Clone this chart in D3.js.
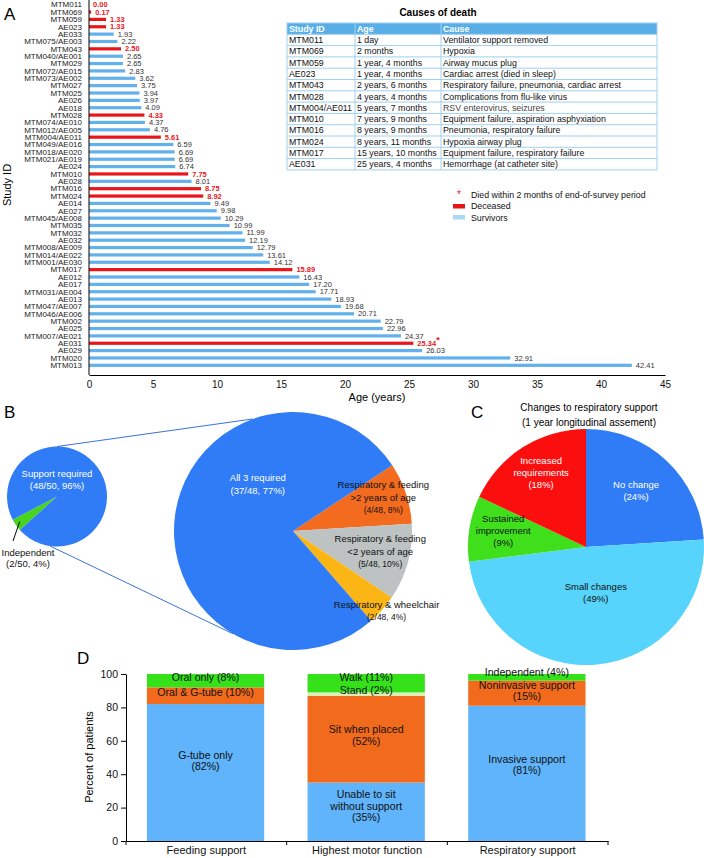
<!DOCTYPE html>
<html><head><meta charset="utf-8">
<script src="https://cdn.jsdelivr.net/npm/d3@7"></script>
<style>body{margin:0;background:#fff}svg{display:block;font-family:"Liberation Sans",Arial,Helvetica,sans-serif}</style>
</head><body><svg id="c" width="704" height="858"></svg>
<script>
// ---------- Panel A data ----------
const studyIds = ["MTM011","MTM069","MTM059","AE023","AE033","MTM075/AE003","MTM043","MTM040/AE001","MTM029","MTM072/AE015",
  "MTM073/AE002","MTM027","MTM025","AE026","AE018","MTM028","MTM074/AE010","MTM012/AE005","MTM004/AE011","MTM049/AE016",
  "MTM018/AE020","MTM021/AE019","AE024","MTM010","AE028","MTM016","MTM024","AE014","AE027","MTM045/AE008",
  "MTM035","MTM032","AE032","MTM008/AE009","MTM014/AE022","MTM001/AE030","MTM017","AE012","AE017","MTM031/AE004",
  "AE013","MTM047/AE007","MTM046/AE006","MTM002","AE025","MTM007/AE021","AE031","AE029","MTM020","MTM013"];
const ages = [0.00,0.17,1.33,1.33,1.93,2.22,2.50,2.65,2.65,2.83,
  3.62,3.75,3.94,3.97,4.09,4.33,4.37,4.76,5.61,6.59,
  6.69,6.69,6.74,7.75,8.01,8.75,8.92,9.49,9.98,10.29,
  10.99,11.99,12.19,12.79,13.61,14.12,15.89,16.43,17.20,17.71,
  18.93,19.68,20.71,22.79,22.96,24.37,25.34,26.03,32.91,42.41];
const deceasedIds = ["MTM011","MTM069","MTM059","AE023","MTM043","MTM028","MTM004/AE011","MTM010","MTM016","MTM024","MTM017","AE031"];
const recentDeathIds = ["AE031"];
const ageTicks = [0,5,10,15,20,25,30,35,40,45];

// Causes of death table
const tableHeader = ["Study ID","Age","Cause"];
const tableIds = ["MTM011","MTM069","MTM059","AE023","MTM043","MTM028","MTM004/AE011","MTM010","MTM016","MTM024","MTM017","AE031"];
const tableAges = ["1 day","2 months","1 year, 4 months","1 year, 4 months","2 years, 6 months","4 years, 4 months","5 years, 7 months","7 years, 9 months","8 years, 9 months","8 years, 11 months","15 years, 10 months","25 years, 4 months"];
const tableCauses = ["Ventilator support removed","Hypoxia","Airway mucus plug","Cardiac arrest (died in sleep)","Respiratory failure, pneumonia, cardiac arrest","Complications from flu-like virus","RSV enterovirus, seizures","Equipment failure, aspiration asphyxiation","Pneumonia, respiratory failure","Hypoxia airway plug","Equipment failure, respiratory failure","Hemorrhage (at catheter site)"];
const legendLabels = ["Died within 2 months of end-of-survey period","Deceased","Survivors"];

// ---------- Panel B data ----------
const smallLabels = [["Independent","(2/50, 4%)"],["Support required","(48/50, 96%)"]];
const smallValues = [2,48];
const bigLabels = [["Respiratory & feeding",">2 years of age","(4/48, 8%)"],["Respiratory & feeding","<2 years of age","(5/48, 10%)"],["Respiratory & wheelchair","(2/48, 4%)"],["All 3 required","(37/48, 77%)"]];
const bigValues = [4,5,2,37];

// ---------- Panel C data ----------
const cTitle = ["Changes to respiratory support","(1 year longitudinal assement)"];
const cLabels = [["No change","(24%)"],["Small changes","(49%)"],["Sustained","improvement","(9%)"],["Increased","requirements","(18%)"]];
const cValues = [24,49,9,18];

// ---------- Panel D data ----------
const dCategories = ["Feeding support","Highest motor function","Respiratory support"];
const feedingLabels = [["G-tube only","(82%)"],["Oral & G-tube (10%)"],["Oral only (8%)"]];
const feedingValues = [82,10,8];
const motorLabels = [["Unable to sit","without support","(35%)"],["Sit when placed","(52%)"],["Stand (2%)"],["Walk (11%)"]];
const motorValues = [35,52,2,11];
const respLabels = [["Invasive support","(81%)"],["Noninvasive support","(15%)"],["Independent (4%)"]];
const respValues = [81,15,4];
const pctTicks = [0,20,40,60,80,100];

// ---------- drawing ----------
const svg = d3.select("#c");
const BLUE_BAR = "#62b1ec", RED = "#e8161b", LIGHT_LEG = "#a9d9f3";
const deg = a => a*Math.PI/180;

// Panel A
const gA = svg.append("g");
gA.append("text").attr("x",4).attr("y",20).attr("font-size",17).text("A");
const xA = d3.scaleLinear().domain([0,45]).range([89,665]);
const yA = d3.scaleBand().domain(studyIds).range([1,369]);
const isDead = id => deceasedIds.includes(id);
const barH = 3.2;
gA.selectAll("rect.bar").data(studyIds).join("rect").attr("class","bar")
  .attr("x",xA(0)).attr("y",(d)=>yA(d)+yA.bandwidth()/2-barH/2)
  .attr("width",(d,i)=>xA(ages[i])-xA(0)).attr("height",barH)
  .attr("fill",d=>isDead(d)?RED:BLUE_BAR);
gA.selectAll("text.id").data(studyIds).join("text").attr("class","id")
  .attr("x",82).attr("y",d=>yA(d)+yA.bandwidth()/2).attr("dy","0.35em")
  .attr("text-anchor","end").attr("font-size",8).attr("fill","#222").text(d=>d);
gA.selectAll("text.val").data(studyIds).join("text").attr("class","val")
  .attr("x",(d,i)=>xA(ages[i])+4).attr("y",d=>yA(d)+yA.bandwidth()/2).attr("dy","0.35em")
  .attr("font-size",7.5).attr("font-weight",d=>isDead(d)?"bold":"normal")
  .attr("fill",d=>isDead(d)?RED:"#333")
  .each(function(d,i){
    const t=d3.select(this); t.text(ages[i].toFixed(2));
    if(recentDeathIds.includes(d)) t.append("tspan").attr("dy","-0.35em").attr("font-size",9).text("*");
  });
// axes
const axA = gA.append("g").attr("transform","translate(0,375)")
  .call(d3.axisBottom(xA).tickValues(ageTicks).tickSize(0).tickSizeOuter(0).tickPadding(6));
axA.select(".domain").attr("stroke","#000").attr("stroke-width",1);
axA.selectAll("text").attr("font-size",10).attr("font-family","inherit").attr("fill","#111");
gA.append("line").attr("x1",xA(0)).attr("x2",xA(0)).attr("y1",0).attr("y2",375).attr("stroke","#000");
gA.append("text").attr("x",(xA(0)+xA(45))/2).attr("y",401).attr("text-anchor","middle").attr("font-size",11).text("Age (years)");
gA.append("text").attr("transform","translate(11,185) rotate(-90)").attr("text-anchor","middle").attr("font-size",11).text("Study ID");

// Table
const tb = svg.append("g");
const colX = [287,355,441], tRight = 657, tTop = 23, rowH = 11.3;
tb.append("text").attr("x",438).attr("y",16).attr("text-anchor","middle").attr("font-size",10).attr("font-weight","bold").text("Causes of death");
tb.append("rect").attr("x",colX[0]).attr("y",tTop).attr("width",tRight-colX[0]).attr("height",rowH).attr("fill","#5aaee8");
const nRows = tableIds.length;
tb.append("rect").attr("x",colX[0]).attr("y",tTop).attr("width",tRight-colX[0]).attr("height",rowH*(nRows+1)).attr("fill","none").attr("stroke","#9fd0f0");
for(let r=1;r<=nRows;r++) tb.append("line").attr("x1",colX[0]).attr("x2",tRight).attr("y1",tTop+r*rowH).attr("y2",tTop+r*rowH).attr("stroke","#9fd0f0");
colX.slice(1).forEach(cx=>tb.append("line").attr("x1",cx).attr("x2",cx).attr("y1",tTop).attr("y2",tTop+rowH*(nRows+1)).attr("stroke","#9fd0f0"));
tableHeader.forEach((h,j)=>tb.append("text").attr("x",colX[j]+2).attr("y",tTop+rowH/2).attr("dy","0.35em").attr("font-size",8.8).attr("font-weight","bold").attr("fill","#fff").text(h));
const cols = [tableIds,tableAges,tableCauses];
cols.forEach((col,j)=>col.forEach((v,r)=>tb.append("text").attr("x",colX[j]+2).attr("y",tTop+(r+1.5)*rowH).attr("dy","0.35em").attr("font-size",8.8).attr("fill",j===2&&r===6?"#444":"#111").text(v)));

// Legend
const lg = svg.append("g");
lg.append("text").attr("x",459).attr("y",198).attr("text-anchor","middle").attr("font-size",10).attr("fill",RED).text("*");
lg.append("rect").attr("x",453).attr("y",204).attr("width",12).attr("height",4.5).attr("fill",RED);
lg.append("rect").attr("x",453).attr("y",215).attr("width",12).attr("height",4.5).attr("fill",LIGHT_LEG);
legendLabels.forEach((t,i)=>lg.append("text").attr("x",471).attr("y",195+i*11.3).attr("dy","0.35em").attr("font-size",8.8).attr("fill","#111").text(t));

// Panel B
const gB = svg.append("g");
gB.append("text").attr("x",4).attr("y",418).attr("font-size",17).text("B");
const sC = {x:57,y:496.5,r:50}, bC = {x:293,y:531,r:119};
const pt = (c,a,rr) => [c.x+(rr??c.r)*Math.sin(deg(a)), c.y-(rr??c.r)*Math.cos(deg(a))];
// connecting lines
[[0,340.3],[188,210.2]].forEach(([a1,a2])=>{
  const p1=pt(sC,a1), p2=pt(bC,a2);
  gB.append("line").attr("x1",p1[0]).attr("y1",p1[1]).attr("x2",p2[0]).attr("y2",p2[1]).attr("stroke","#3a74d8").attr("stroke-width",1);
});
const smallPie = d3.pie().sort(null).startAngle(deg(228)).endAngle(deg(228+360))(smallValues);
const smallCols = ["#48d41c","#2f7cf6"];
gB.append("g").attr("transform",`translate(${sC.x},${sC.y})`).selectAll("path").data(smallPie).join("path")
  .attr("d",d3.arc().innerRadius(0).outerRadius(sC.r)).attr("fill",(d,i)=>smallCols[i]);
const bigPie = d3.pie().sort(null).startAngle(deg(56.5)).endAngle(deg(56.5+360))(bigValues);
const bigCols = ["#f26b1f","#bcc3c2","#fbb616","#2f7cf6"];
gB.append("g").attr("transform",`translate(${bC.x},${bC.y})`).selectAll("path").data(bigPie).join("path")
  .attr("d",d3.arc().innerRadius(0).outerRadius(bC.r)).attr("fill",(d,i)=>bigCols[i]);

function multiText(g,x,y,lines,opts){
  const n=lines.length, lh=opts.lh||12;
  const t=g.append("text").attr("x",x).attr("y",y-(n-1)*lh/2).attr("text-anchor","middle").attr("dy","0.35em")
    .attr("font-size",opts.fs||9.5).attr("fill",opts.fill||"#111");
  lines.forEach((l,i)=>t.append("tspan").attr("x",x).attr("dy",i?lh:0).attr("font-size",(opts.small&&i===n-1)?opts.small:null).text(l));
}
// small pie labels
multiText(gB,sC.x,sC.y-14,smallLabels[1],{fill:"#fff",lh:12});
multiText(gB,28,561.5,smallLabels[0],{lh:11.5});
{ const p1=pt(sC,236,45); gB.append("line").attr("x1",p1[0]).attr("y1",p1[1]).attr("x2",13).attr("y2",541).attr("stroke","#000").attr("stroke-width",1); }
// big pie labels (angle from slice midpoint, radius factor)
const bigLabRad = [0.8,0.76,1.05,0.47];
bigPie.forEach((d,i)=>{
  const mid=(d.startAngle+d.endAngle)/2;
  let a = i===3 ? deg(321) : mid;
  const rr=bC.r*bigLabRad[i];
  const x=bC.x+rr*Math.sin(a), y=bC.y-rr*Math.cos(a);
  multiText(gB,x,y,bigLabels[i],{fill:i===3?"#fff":"#111",lh:12.5,small:i<3?8.5:null});
});

// Panel C
const gC = svg.append("g");
gC.append("text").attr("x",471).attr("y",418).attr("font-size",17).text("C");
cTitle.forEach((t,i)=>gC.append("text").attr("x",589).attr("y",411+i*15).attr("text-anchor","middle").attr("font-size",10).text(t));
const cC = {x:586,y:547,r:118};
const cPie = d3.pie().sort(null)(cValues);
const cCols = ["#2f7cf6","#56d4fb","#3fe01b","#fb0e0e"];
gC.append("g").attr("transform",`translate(${cC.x},${cC.y})`).selectAll("path").data(cPie).join("path")
  .attr("d",d3.arc().innerRadius(0).outerRadius(cC.r)).attr("fill",(d,i)=>cCols[i]);
const cLabRad = [0.62,0.42,0.71,0.71];
const cLabFill = ["#fff","#111","#111","#fff"];
cPie.forEach((d,i)=>{
  const mid=(d.startAngle+d.endAngle)/2 + (i===1?deg(-6):0);
  const rr=cC.r*cLabRad[i];
  multiText(gC,cC.x+rr*Math.sin(mid),cC.y-rr*Math.cos(mid),cLabels[i],{fill:cLabFill[i],lh:12});
});

// Panel D
const gD = svg.append("g");
gD.append("text").attr("x",77).attr("y",664).attr("font-size",17).text("D");
const xD = d3.scaleBand().domain(dCategories).range([126,608]).padding(0);
const yD = d3.scaleLinear().domain([0,100]).range([841,674]);
const ayD = gD.append("g").attr("transform","translate(126,0)")
  .call(d3.axisLeft(yD).tickValues(pctTicks).tickSize(5).tickSizeOuter(0).tickPadding(3));
ayD.selectAll("text").attr("font-size",10.5).attr("font-family","inherit").attr("fill","#111");
const axD = gD.append("g").attr("transform","translate(0,841)")
  .call(d3.axisBottom(xD).tickSize(0).tickSizeOuter(0).tickPadding(5));
axD.selectAll("text").attr("font-size",11).attr("font-family","inherit").attr("fill","#111");
[...dCategories.map(c=>xD(c)), xD.range()[1]].forEach(x=>gD.append("line").attr("x1",x).attr("x2",x).attr("y1",841).attr("y2",845).attr("stroke","#000"));
gD.append("text").attr("transform","translate(93,757) rotate(-90)").attr("text-anchor","middle").attr("font-size",11).text("Percent of patients");
const dSeries = [[feedingValues,feedingLabels,["#5fb4fb","#f26a1b","#35e21a"],[-8,0,0]],
                 [motorValues,motorLabels,["#5fb4fb","#f26a1b","#d6f2b5","#35e21a"],[-2,0,0,-2]],
                 [respValues,respLabels,["#5fb4fb","#f26a1b","#35e21a"],[-5,1,-1]]];
dSeries.forEach(([vals,labs,cols,nudge],ci)=>{
  const cat=dCategories[ci];
  const bx = xD(cat)+xD.bandwidth()*0.13, bw = xD.bandwidth()*0.73;
  let acc=0;
  vals.forEach((v,k)=>{
    const y0=acc, y1=acc+v; acc=y1;
    gD.append("rect").attr("x",bx).attr("width",bw).attr("y",yD(y1)).attr("height",yD(y0)-yD(y1)).attr("fill",cols[k]);
  });
  acc=0;
  vals.forEach((v,k)=>{
    const y0=acc, y1=acc+v; acc=y1;
    multiText(gD,bx+bw/2,(yD(y0)+yD(y1))/2+nudge[k],labs[k],{fs:10.6,lh:11.4});
  });
});
</script></body></html>
